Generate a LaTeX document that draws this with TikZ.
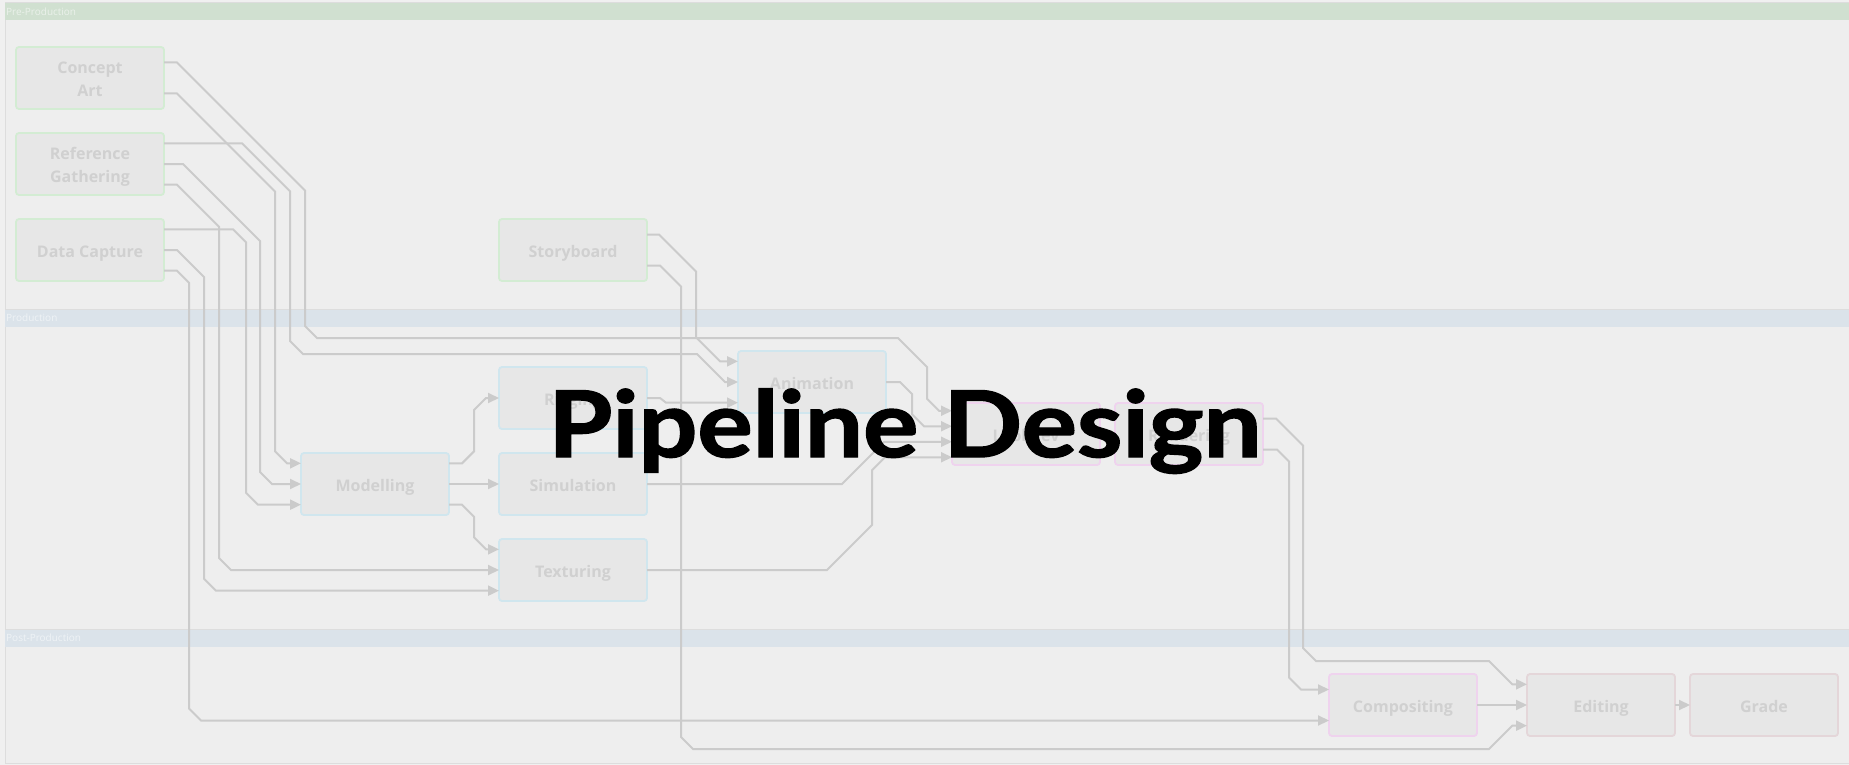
\documentclass[tikz,border=0pt]{standalone}
\usepackage{graphicx}
\usepackage{fontspec}
\setmainfont{Open Sans}
\newfontfamily\titlefont{Lato}[BoldFeatures={FakeBold=1.5}]
\usetikzlibrary{arrows.meta,calc}

\definecolor{pagebg}{HTML}{F0F0F0}
\definecolor{lanebg}{HTML}{EEEEEE}
\definecolor{laneline}{HTML}{DDDDDD}
\definecolor{hdrpre}{HTML}{D0E0D0}
\definecolor{hdrprod}{HTML}{DBE3EA}
\definecolor{boxfill}{HTML}{E7E7E7}
\definecolor{boxtext}{HTML}{D0D0D0}
\definecolor{edgegreen}{HTML}{D3ECD3}
\definecolor{edgeblue}{HTML}{D0E6EE}
\definecolor{edgepink}{HTML}{EFD3EE}
\definecolor{edgerose}{HTML}{E4D6D9}
\definecolor{wirec}{HTML}{CBCBCB}

\tikzset{
  stage/.style={draw, line width=1.8pt, fill=boxfill, rounded corners=3pt,
    minimum width=148pt, minimum height=62pt, inner sep=0pt, outer sep=0pt,
    anchor=north west, align=center, text=boxtext,
    font=\fontsize{16}{22.5}\selectfont\bfseries},
  oneline/.style={text height=15pt, text depth=0pt},
  twoline/.style={text height=36.4pt, text depth=0pt},
  prebox/.style={stage, draw=edgegreen},
  prodbox/.style={stage, draw=edgeblue, oneline},
  postbox/.style={stage, draw=edgepink, oneline},
  cutbox/.style={stage, draw=edgerose, oneline},
  wire/.style={draw=wirec, line width=2pt},
  flow/.style={wire, -{Triangle[length=11pt,width=10pt]}},
  lanetitle/.style={anchor=west, inner sep=0pt, font=\fontsize{10}{12}\selectfont}
}

\begin{document}
\begin{tikzpicture}[x=1pt,y=-1pt]
\useasboundingbox (0,0) rectangle (1849,765);
\fill[pagebg] (0,0) rectangle (1849,765);

% swimlanes
\filldraw[fill=lanebg, draw=laneline, line width=1pt] (5,3) rectangle (1852,763);
\fill[hdrpre] (5,3) rectangle (1849,20);
\fill[hdrprod] (5,309) rectangle (1849,327);
\fill[hdrprod] (5,629) rectangle (1849,647);
\draw[laneline, line width=1pt] (5,309) -- (1849,309);
\draw[laneline, line width=1pt] (5,629) -- (1849,629);
\node[lanetitle, text=white!55!hdrpre] (lpre) at (6,11.5) {Pre-Production};
\node[lanetitle, text=white!55!hdrprod] (lprod) at (6,318) {Production};
\node[lanetitle, text=white!55!hdrprod] (lpost) at (6,638) {Post-Production};

% stages
\node[prebox, twoline] (ca) at (16,47) {Concept\\Art};
\node[prebox, twoline] (rg) at (16,133) {Reference\\Gathering};
\node[prebox, oneline] (dc) at (16,219) {Data Capture};
\node[prebox, oneline] (sb) at (499,219) {Storyboard};
\node[prodbox] (an) at (738,351) {Animation};
\node[prodbox] (rig) at (499,367) {Rigging};
\node[prodbox] (mod) at (301,453) {Modelling};
\node[prodbox] (sim) at (499,453) {Simulation};
\node[prodbox] (tex) at (499,539) {Texturing};
\node[postbox] (lit) at (952,403) {Lookdev};
\node[postbox] (ren) at (1115,403) {Rendering};
\node[postbox] (comp) at (1329,674) {Compositing};
\node[cutbox] (edit) at (1527,674) {Editing};
\node[cutbox] (grade) at (1690,674) {Grade};

% connectors
\draw[flow] ($(ca.north east)!.25!(ca.south east)$) -- (177,62.5) -- (305,190.5) -- (305,326) -- (317,338)
  -- (898,338) -- (927,367) -- (927,398.75) -- (939,410.75) -- ($(lit.north west)!.125!(lit.south west)$);
\draw[flow] ($(ca.north east)!.75!(ca.south east)$) -- (177,93.5) -- (275,191.5) -- (275,451.33) -- (287,463.33)
  -- ($(mod.north west)!1/6!(mod.south west)$);
\draw[flow] ($(rg.north east)!1/6!(rg.south east)$) -- (242,143.33) -- (290,191.33) -- (290,341) -- (303,354)
  -- (697,354) -- (725,382) -- (an.west);
\draw[flow] (rg.east) -- (183,164) -- (260,241) -- (260,472) -- (272,484) -- (mod.west);
\draw[flow] ($(rg.north east)!5/6!(rg.south east)$) -- (177,184.67) -- (219,226.67) -- (219,558) -- (231,570) -- (tex.west);
\draw[flow] ($(dc.north east)!1/6!(dc.south east)$) -- (233,229.33) -- (246,242.33) -- (246,492.67) -- (258,504.67)
  -- ($(mod.north west)!5/6!(mod.south west)$);
\draw[flow] (dc.east) -- (177,250) -- (204,277) -- (204,578.67) -- (216,590.67)
  -- ($(tex.north west)!5/6!(tex.south west)$);
\draw[flow] ($(dc.north east)!5/6!(dc.south east)$) -- (177,270.67) -- (189,282.67) -- (189,708.5) -- (201,720.5)
  -- ($(comp.north west)!.75!(comp.south west)$);
\draw[flow] ($(sb.north east)!.25!(sb.south east)$) -- (659,234.5) -- (696,271.5) -- (696,337.33) -- (720,361.33)
  -- ($(an.north west)!1/6!(an.south west)$);
\draw[flow] ($(sb.north east)!.75!(sb.south east)$) -- (660,265.5) -- (681,286.5) -- (681,737) -- (693,749)
  -- (1489,749) -- (1512.33,725.67) -- ($(edit.north west)!5/6!(edit.south west)$);
\draw[flow] ($(mod.north east)!1/6!(mod.south east)$) -- (462,463.33) -- (474,451.33) -- (474,410) -- (486,398) -- (rig.west);
\draw[flow] (mod.east) -- (sim.west);
\draw[flow] ($(mod.north east)!5/6!(mod.south east)$) -- (462,504.67) -- (474,516.67) -- (474,537.33) -- (486,549.33)
  -- ($(tex.north west)!1/6!(tex.south west)$);
\draw[flow] (rig.east) -- (660,398) -- (666,402.67) -- ($(an.north west)!5/6!(an.south west)$);
\draw[flow] (an.east) -- (900,382) -- (912,394) -- (912,414.25) -- (924,426.25) -- ($(lit.north west)!.375!(lit.south west)$);
\draw[flow] (sim.east) -- (842,484) -- (884.25,441.75) -- ($(lit.north west)!.625!(lit.south west)$);
\draw[flow] (tex.east) -- (827,570) -- (872,525) -- (872,470.25) -- (885,457.25) -- ($(lit.north west)!.875!(lit.south west)$);
\draw[flow] (lit.east) -- (ren.west);
\draw[flow] ($(ren.north east)!.25!(ren.south east)$) -- (1276,418.5) -- (1303,445.5) -- (1303,648) -- (1316,661)
  -- (1489,661) -- (1512.33,684.33) -- ($(edit.north west)!1/6!(edit.south west)$);
\draw[flow] ($(ren.north east)!.75!(ren.south east)$) -- (1277,449.5) -- (1289,461.5) -- (1289,677.5) -- (1301,689.5)
  -- ($(comp.north west)!.25!(comp.south west)$);
\draw[flow] (comp.east) -- (edit.west);
\draw[flow] (edit.east) -- (grade.west);

% title
\node[anchor=base, inner sep=0pt, font=\titlefont\bfseries\fontsize{92}{100}\selectfont] (title) at (905,457)
  {\scalebox{1.125}[1]{Pipeline Design}};
\end{tikzpicture}
\end{document}
